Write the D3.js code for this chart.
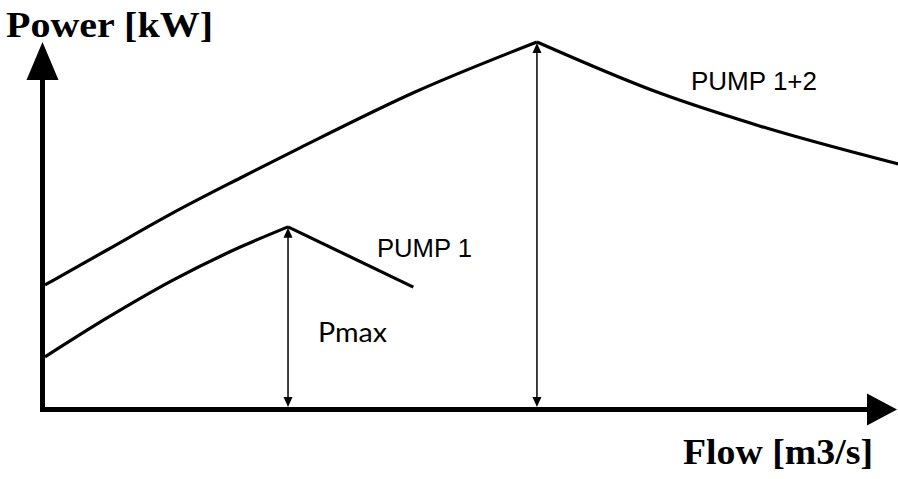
<!DOCTYPE html>
<html>
<head>
<meta charset="utf-8">
<script src="https://cdn.jsdelivr.net/npm/d3@7"></script>
<style>
  html, body { margin: 0; padding: 0; background: #fff; }
  svg { display: block; }
</style>
</head>
<body>
<svg id="chart" width="898" height="479"></svg>
<script>
// Flow (x) and Power (y) in relative units, 0..100
const pump12RiseFlow  = [0.29, 7.57, 15.3, 23.2, 30.2, 43.7, 58.0];
const pump12RisePower = [33.9, 43.4, 53.5, 63.0, 71.2, 86.4, 100];
const pump12FallFlow  = [58.0, 72.4, 84.2, 100.4];
const pump12FallPower = [100, 86.1, 77.1, 66.8];

const pump1RiseFlow  = [0.29, 7.57, 15.3, 23.2, 28.8];
const pump1RisePower = [14.3, 24.9, 35.2, 44.2, 49.7];
const pump1FallFlow  = [28.8, 43.5];
const pump1FallPower = [49.7, 33.3];

const pmaxFlow  = [28.8, 58.0];
const pmaxPower = [49.7, 100];

const yTitle = "Power [kW]";
const xTitle = "Flow [m3/s]";
const labels = ["PUMP 1+2", "PUMP 1", "Pmax"];

const svg = d3.select("#chart");
const x = d3.scaleLinear().domain([0, 100]).range([42.5, 895]);
const y = d3.scaleLinear().domain([0, 100]).range([409.5, 42]);

const zip = (a, b) => a.map((v, i) => [v, b[i]]);
const line = d3.line().x(d => x(d[0])).y(d => y(d[1])).curve(d3.curveMonotoneX);

// Axes (no ticks), thick domain lines
const xAxisG = svg.append("g")
  .attr("transform", `translate(0,${y(0)})`)
  .call(d3.axisBottom(x).tickValues([]).tickSizeOuter(0));
xAxisG.select(".domain")
  .attr("d", `M${x(0) - 2.5},0H868`)
  .attr("stroke", "#000").attr("stroke-width", 5);

const yAxisG = svg.append("g")
  .attr("transform", `translate(${x(0)},0)`)
  .call(d3.axisLeft(y).tickValues([]).tickSizeOuter(0));
yAxisG.select(".domain")
  .attr("d", `M0,${y(0) + 2.5}V78`)
  .attr("stroke", "#000").attr("stroke-width", 5);

// Axis arrowheads
svg.append("path")
  .attr("d", `M${x(0)},42 L${x(0) + 16},80 L${x(0) - 16},80 Z`)
  .attr("fill", "#000");
svg.append("path")
  .attr("d", `M897,${y(0)} L867,${y(0) - 16} L867,${y(0) + 16} Z`)
  .attr("fill", "#000");

// Curves
const curves = [
  zip(pump12RiseFlow, pump12RisePower),
  zip(pump12FallFlow, pump12FallPower),
  zip(pump1RiseFlow, pump1RisePower),
  zip(pump1FallFlow, pump1FallPower)
];
svg.selectAll("path.curve").data(curves).enter().append("path")
  .attr("class", "curve")
  .attr("d", line)
  .attr("fill", "none")
  .attr("stroke", "#000")
  .attr("stroke-width", 3.2)
  .attr("stroke-linejoin", "miter");

// Pmax double-headed arrows
pmaxFlow.forEach((f, i) => {
  const px = x(f), top = y(pmaxPower[i]) + 1, bot = y(0) - 2.5;
  svg.append("line")
    .attr("x1", px).attr("x2", px)
    .attr("y1", top + 6).attr("y2", bot - 6)
    .attr("stroke", "#000").attr("stroke-width", 1.5);
  svg.append("path")
    .attr("d", `M${px},${top} L${px + 4.5},${top + 10} L${px - 4.5},${top + 10} Z`)
    .attr("fill", "#000");
  svg.append("path")
    .attr("d", `M${px},${bot} L${px + 4.5},${bot - 10} L${px - 4.5},${bot - 10} Z`)
    .attr("fill", "#000");
});

// Titles
svg.append("text")
  .attr("x", 6).attr("y", 37)
  .attr("font-family", "'Liberation Serif', 'Times New Roman', serif")
  .attr("font-weight", "bold").attr("font-size", 35)
  .attr("textLength", 207).attr("lengthAdjust", "spacingAndGlyphs")
  .text(yTitle);
svg.append("text")
  .attr("x", 683).attr("y", 464)
  .attr("font-family", "'Liberation Serif', 'Times New Roman', serif")
  .attr("font-weight", "bold").attr("font-size", 36)
  .attr("textLength", 190).attr("lengthAdjust", "spacingAndGlyphs")
  .text(xTitle);

// Labels
svg.append("text")
  .attr("x", 691).attr("y", 90)
  .attr("font-family", "'Liberation Sans', Arial, sans-serif")
  .attr("font-size", 25.5)
  .attr("textLength", 126).attr("lengthAdjust", "spacingAndGlyphs")
  .text(labels[0]);
svg.append("text")
  .attr("x", 377).attr("y", 257)
  .attr("font-family", "'Liberation Sans', Arial, sans-serif")
  .attr("font-size", 25.5)
  .attr("textLength", 95).attr("lengthAdjust", "spacingAndGlyphs")
  .text(labels[1]);
svg.append("text")
  .attr("x", 318).attr("y", 342)
  .attr("font-family", "Lato, 'Noto Sans', sans-serif")
  .attr("font-weight", 400)
  .attr("font-size", 27)
  .attr("textLength", 69).attr("lengthAdjust", "spacingAndGlyphs")
  .text(labels[2]);
</script>
</body>
</html>
